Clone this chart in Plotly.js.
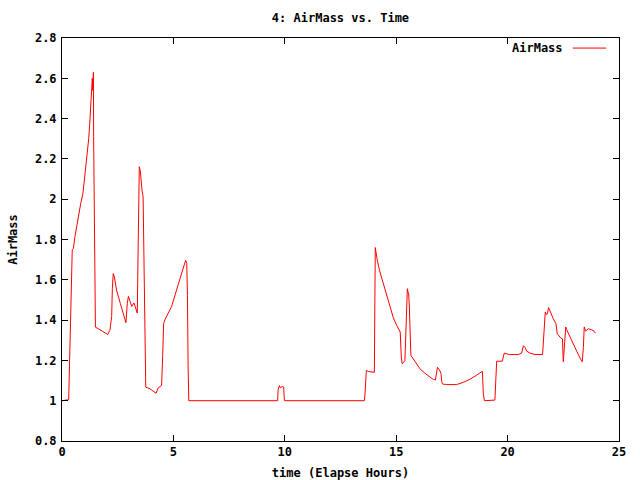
<!DOCTYPE html>
<html>
<head>
<meta charset="utf-8">
<script src="https://cdn.plot.ly/plotly-3.0.1.min.js"></script>
<style>html,body{margin:0;padding:0;background:#fff;}#chart{width:640px;height:480px;}</style>
</head>
<body>
<div id="chart"></div>
<script>
const seriesName = "AirMass";
const timeHours = [0, 0.3, 0.46, 0.51, 0.58, 0.64, 0.73, 0.84, 0.94, 1.03, 1.08, 1.14, 1.2, 1.24, 1.29, 1.33, 1.36, 1.38, 1.41, 1.42, 1.47, 1.5, 1.63, 1.86, 2.05, 2.15, 2.23, 2.26, 2.3, 2.35, 2.45, 2.62, 2.8, 2.87, 2.93, 2.98, 3.04, 3.13, 3.23, 3.29, 3.38, 3.4, 3.44, 3.47, 3.52, 3.55, 3.59, 3.64, 3.67, 3.71, 3.76, 3.95, 4.22, 4.32, 4.47, 4.52, 4.56, 4.62, 4.92, 5.22, 5.52, 5.55, 5.6, 5.63, 5.66, 5.69, 9.68, 9.7, 9.76, 9.8, 9.89, 9.95, 9.98, 13.57, 13.6, 13.66, 13.75, 14.02, 14.06, 14.08, 14.15, 14.27, 14.42, 14.57, 14.72, 14.87, 15.02, 15.14, 15.18, 15.23, 15.27, 15.33, 15.39, 15.42, 15.47, 15.5, 15.53, 15.56, 15.59, 15.62, 15.66, 15.77, 15.92, 16.07, 16.29, 16.52, 16.67, 16.76, 16.79, 16.85, 16.94, 17.01, 17.05, 17.08, 17.26, 17.71, 18.01, 18.31, 18.61, 18.76, 18.87, 18.91, 18.96, 19.43, 19.48, 19.51, 19.76, 19.81, 19.85, 20.08, 20.48, 20.63, 20.71, 20.79, 20.86, 21.01, 21.23, 21.57, 21.6, 21.65, 21.69, 21.75, 21.79, 21.84, 21.9, 22.05, 22.17, 22.23, 22.38, 22.46, 22.5, 22.53, 22.58, 22.61, 22.65, 22.8, 22.95, 23.1, 23.25, 23.35, 23.4, 23.44, 23.5, 23.62, 23.77, 23.88, 23.94];
const airMass = [1.0, 1.005, 1.75, 1.755, 1.813, 1.855, 1.912, 1.979, 2.029, 2.12, 2.178, 2.253, 2.302, 2.369, 2.468, 2.543, 2.6, 2.54, 2.63, 2.31, 1.684, 1.365, 1.357, 1.34, 1.329, 1.349, 1.418, 1.556, 1.631, 1.614, 1.548, 1.482, 1.415, 1.387, 1.482, 1.518, 1.498, 1.468, 1.485, 1.465, 1.435, 1.617, 1.979, 2.161, 2.136, 2.086, 2.045, 2.012, 1.763, 1.299, 1.067, 1.059, 1.037, 1.064, 1.075, 1.224, 1.382, 1.402, 1.468, 1.578, 1.681, 1.697, 1.681, 1.523, 1.175, 1.0, 1.0, 1.054, 1.075, 1.064, 1.07, 1.068, 1.0, 1.0, 1.034, 1.15, 1.145, 1.141, 1.76, 1.745, 1.697, 1.639, 1.581, 1.523, 1.457, 1.412, 1.374, 1.349, 1.341, 1.216, 1.183, 1.19, 1.2, 1.291, 1.465, 1.556, 1.54, 1.53, 1.465, 1.365, 1.224, 1.207, 1.183, 1.158, 1.136, 1.117, 1.105, 1.103, 1.133, 1.166, 1.153, 1.136, 1.091, 1.083, 1.08, 1.08, 1.091, 1.106, 1.127, 1.138, 1.146, 1.034, 1.0, 1.003, 1.1, 1.196, 1.196, 1.216, 1.236, 1.229, 1.229, 1.236, 1.273, 1.263, 1.246, 1.236, 1.229, 1.229, 1.283, 1.391, 1.44, 1.427, 1.432, 1.462, 1.445, 1.407, 1.382, 1.332, 1.312, 1.307, 1.193, 1.249, 1.324, 1.366, 1.353, 1.315, 1.277, 1.246, 1.212, 1.193, 1.263, 1.366, 1.345, 1.357, 1.352, 1.345, 1.335];
const chartTitle = "4: AirMass vs. Time";
const xTitle = "time (Elapse Hours)";
const yTitle = "AirMass";

const font = {family: "DejaVu Sans Mono, monospace", size: 12, color: "#000", weight: "bold"};

const trace = {
  x: timeHours, y: airMass, type: "scatter", mode: "lines", name: seriesName,
  line: {color: "#ff0000", width: 1}, showlegend: false
};

const axisCommon = {
  showline: true, linecolor: "#000", linewidth: 1, mirror: "ticks",
  ticks: "inside", ticklen: 6, tickcolor: "#000", tickwidth: 1,
  showgrid: false, zeroline: false, tickfont: font
};

const layout = {
  width: 640, height: 480,
  margin: {l: 62, r: 21, t: 38, b: 39},
  paper_bgcolor: "#fff", plot_bgcolor: "#fff",
  font: font,
  title: {text: chartTitle, font: font, x: 0.532, xanchor: "center", y: 0.962, yanchor: "middle"},
  xaxis: Object.assign({}, axisCommon, {range: [0, 25], dtick: 5, tick0: 0,
    title: {text: xTitle, font: font, standoff: 11}}),
  yaxis: Object.assign({}, axisCommon, {range: [0.8, 2.8], dtick: 0.2, tick0: 0.8, ticklabelstandoff: 2,
    title: {text: yTitle, font: font, standoff: 14}}),
  annotations: [{
    xref: "paper", yref: "paper", x: 0.903, y: 0.975, xanchor: "right", yanchor: "middle",
    text: seriesName, showarrow: false, font: font
  }],
  shapes: [{
    type: "line", xref: "paper", yref: "paper", x0: 0.917, x1: 0.977, y0: 0.975, y1: 0.975,
    line: {color: "#ff0000", width: 1}
  }]
};

Plotly.newPlot("chart", [trace], layout, {displayModeBar: false, staticPlot: true});
</script>
</body>
</html>
